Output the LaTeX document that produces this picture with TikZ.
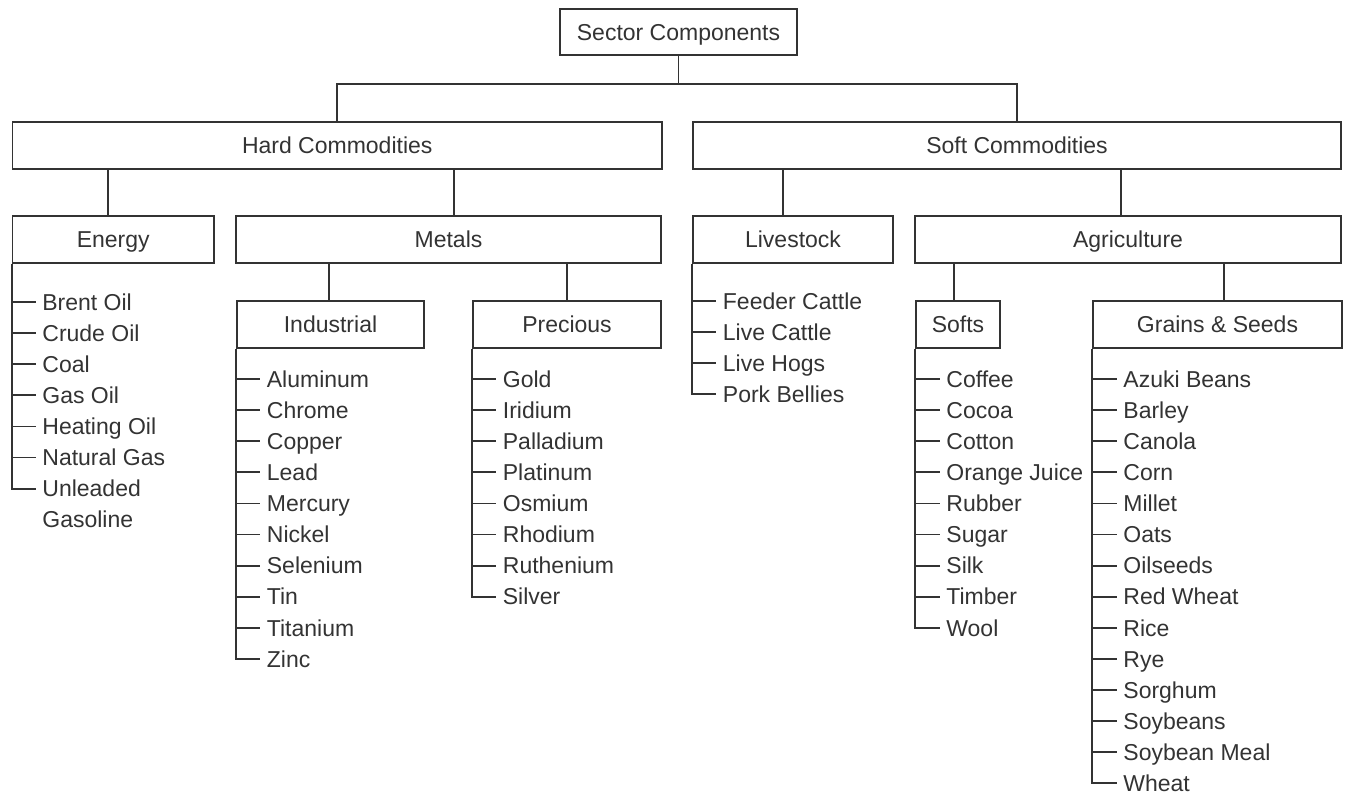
\documentclass[tikz,border=0pt]{standalone}
\usepackage{fontspec}
\setmainfont{Liberation Sans}
\definecolor{InkClr}{rgb}{0.2,0.2,0.2}

\begin{document}
\begin{tikzpicture}[x=1pt,y=-1pt,line width=1.8pt,color=InkClr,
  font=\fontsize{23}{28}\selectfont,
  sector/.style={draw,inner sep=0pt,minimum height=47,text height=16.5,text depth=0pt},
  entry/.style={anchor=west,inner sep=0pt,text height=16.5,text depth=0pt}]
\useasboundingbox (0,0) rectangle (1351,797);

\node[sector,minimum width=237,minimum height=46] (sector) at (678.5,32.3) {Sector Components};
\node[sector,minimum width=649.5] (hard) at (337.25,145.5) {Hard Commodities};
\node[sector,minimum width=648] (soft) at (1017,145.5) {Soft Commodities};
\node[sector,minimum width=201.5] (energy) at (113.25,239.5) {Energy};
\node[sector,minimum width=425] (metals) at (448.5,239.5) {Metals};
\node[sector,minimum width=200] (livestock) at (793,239.5) {Livestock};
\node[sector,minimum width=426] (agri) at (1128,239.5) {Agriculture};
\node[sector,minimum width=187] (industrial) at (330.5,324.5) {Industrial};
\node[sector,minimum width=188] (precious) at (567,324.5) {Precious};
\node[sector,minimum width=84] (softs) at (958,324.5) {Softs};
\node[sector,minimum width=249] (grains) at (1217.5,324.5) {Grains \& Seeds};

\coordinate (fork) at (678.5,84);
\draw (sector) -- (fork);
\draw (hard.north) |- (fork) -| (soft.north);
\draw ([xshift=-5]energy.north) -- ([xshift=-5]energy.north |- hard.south);
\draw ([xshift=5.5]metals.north) -- ([xshift=5.5]metals.north |- hard.south);
\draw ([xshift=-10]livestock.north) -- ([xshift=-10]livestock.north |- soft.south);
\draw ([xshift=-7]agri.north) -- ([xshift=-7]agri.north |- soft.south);
\draw ([xshift=-1.5]industrial.north) -- ([xshift=-1.5]industrial.north |- metals.south);
\draw (precious.north) -- (precious.north |- metals.south);
\draw ([xshift=-4]softs.north) -- ([xshift=-4]softs.north |- agri.south);
\draw ([xshift=6.5]grains.north) -- ([xshift=6.5]grains.north |- agri.south);

\foreach \ware [count=\i from 0] in {Brent Oil,Crude Oil,Coal,Gas Oil,Heating Oil,Natural Gas,Unleaded}{
  \node[entry] (en-\i) at (41.5,{302+31.1*\i}) {\ware};
  \draw (energy.west |- en-\i.west) -- ([xshift=-6]en-\i.west);
}
\node[entry] (gasoline) at ([yshift=-31.1]en-6.west) {Gasoline};
\draw (energy.south west) |- ([xshift=-6]en-6.west);

\foreach \ware [count=\i from 0] in {Aluminum,Chrome,Copper,Lead,Mercury,Nickel,Selenium,Tin,Titanium,Zinc}{
  \node[entry] (ind-\i) at (266,{379+31.1*\i}) {\ware};
  \draw (industrial.west |- ind-\i.west) -- ([xshift=-6]ind-\i.west);
}
\draw (industrial.south west) |- ([xshift=-6]ind-9.west);

\foreach \ware [count=\i from 0] in {Gold,Iridium,Palladium,Platinum,Osmium,Rhodium,Ruthenium,Silver}{
  \node[entry] (pre-\i) at (502,{379+31.1*\i}) {\ware};
  \draw (precious.west |- pre-\i.west) -- ([xshift=-6]pre-\i.west);
}
\draw (precious.south west) |- ([xshift=-6]pre-7.west);

\foreach \ware [count=\i from 0] in {Feeder Cattle,Live Cattle,Live Hogs,Pork Bellies}{
  \node[entry] (liv-\i) at (722,{301+31.1*\i}) {\ware};
  \draw (livestock.west |- liv-\i.west) -- ([xshift=-6]liv-\i.west);
}
\draw (livestock.south west) |- ([xshift=-6]liv-3.west);

\foreach \ware [count=\i from 0] in {Coffee,Cocoa,Cotton,Orange Juice,Rubber,Sugar,Silk,Timber,Wool}{
  \node[entry] (sof-\i) at (945.5,{379+31.1*\i}) {\ware};
  \draw (softs.west |- sof-\i.west) -- ([xshift=-6]sof-\i.west);
}
\draw (softs.south west) |- ([xshift=-6]sof-8.west);

\foreach \ware [count=\i from 0] in {Azuki Beans,Barley,Canola,Corn,Millet,Oats,Oilseeds,Red Wheat,Rice,Rye,Sorghum,Soybeans,Soybean Meal,Wheat}{
  \node[entry] (grn-\i) at (1122.5,{379+31.1*\i}) {\ware};
  \draw (grains.west |- grn-\i.west) -- ([xshift=-6]grn-\i.west);
}
\draw (grains.south west) |- ([xshift=-6]grn-13.west);

\end{tikzpicture}
\end{document}
